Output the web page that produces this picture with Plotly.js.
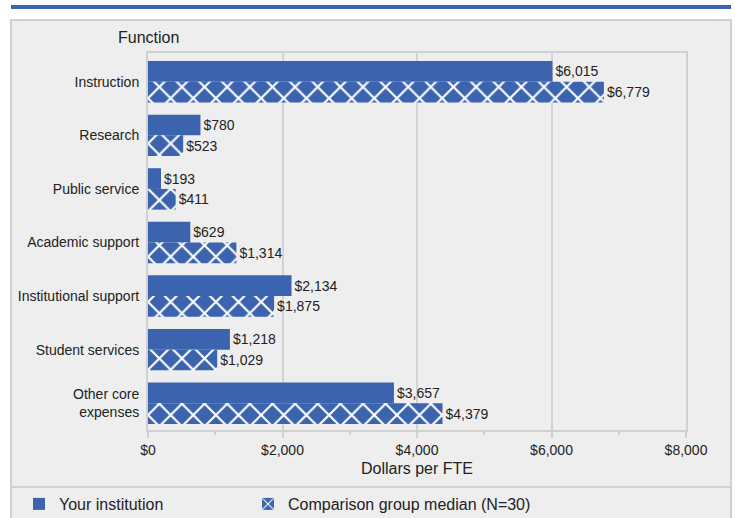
<!DOCTYPE html>
<html>
<head>
<meta charset="utf-8">
<script src="https://cdn.plot.ly/plotly-3.0.1.min.js"></script>
<style>html,body{margin:0;padding:0;background:#fff;}#chart{width:735px;height:518px;}</style>
</head>
<body>
<div id="chart"></div>
<script>
var categories = ["Instruction", "Research", "Public service", "Academic support", "Institutional support", "Student services", "Other core<br>expenses"];
var yourInstitution = [6015, 780, 193, 629, 2134, 1218, 3657];
var comparisonMedian = [6779, 523, 411, 1314, 1875, 1029, 4379];
var seriesNames = ["Your institution", "Comparison group median (N=30)"];
var tickVals = [0, 2000, 4000, 6000, 8000];

function fmt(v) { return "$" + v.toLocaleString("en-US"); }

var BLUE = "#3b63ae";
var FONT = "Liberation Sans, Arial, sans-serif";

var L = 148, R = 686, T = 53, B = 430;
function px(x) { return (x - L) / (R - L); }
function py(y) { return (B - y) / (B - T); }

var traces = [
  {
    type: "bar", orientation: "h", name: seriesNames[0], legend: "legend",
    y: categories, x: yourInstitution,
    text: yourInstitution.map(fmt), textposition: "outside", cliponaxis: false,
    textfont: {family: FONT, size: 14, color: "#222"},
    marker: {color: BLUE, line: {width: 0}},
    hoverinfo: "none"
  },
  {
    type: "bar", orientation: "h", name: seriesNames[1], legend: "legend2",
    y: categories, x: comparisonMedian,
    text: comparisonMedian.map(fmt), textposition: "outside", cliponaxis: false,
    textfont: {family: FONT, size: 14, color: "#222"},
    marker: {color: BLUE, line: {width: 0},
      pattern: {shape: "x", bgcolor: BLUE, fgcolor: "#ffffff", fgopacity: 1, size: 16, solidity: 0.25, fillmode: "replace"}},
    hoverinfo: "none"
  }
];

function legendAt(xPix) {
  return {
    orientation: "h", xref: "container", yref: "container",
    x: xPix / 735, y: 1 - 504 / 518, xanchor: "left", yanchor: "middle",
    font: {family: FONT, size: 16, color: "#222"},
    bgcolor: "rgba(0,0,0,0)"
  };
}

var layout = {
  width: 735, height: 518,
  margin: {l: L, r: 735 - R, t: T, b: 518 - B, pad: 0},
  paper_bgcolor: "#ffffff",
  plot_bgcolor: "rgba(0,0,0,0)",
  font: {family: FONT, size: 14, color: "#222"},
  barmode: "group", bargap: 0.227, bargroupgap: 0,
  showlegend: true,
  legend: legendAt(19),
  legend2: legendAt(248),
  xaxis: {
    range: [0, 8000], tickvals: tickVals, ticktext: tickVals.map(fmt),
    showgrid: true, gridcolor: "#d3d3d3", gridwidth: 2,
    zeroline: false,
    showline: true, linecolor: "#d0d0d0", linewidth: 2, mirror: true,
    ticks: "outside", ticklen: 6, tickcolor: "#d0d0d0", tickwidth: 2,
    minor: {dtick: 1000, tick0: 0, ticks: "outside", ticklen: 3, tickcolor: "#d0d0d0", tickwidth: 2, showgrid: false},
    tickfont: {family: FONT, size: 14, color: "#222"},
    title: {text: "Dollars per FTE", font: {family: FONT, size: 16, color: "#222"}, standoff: 6},
    fixedrange: true
  },
  yaxis: {
    type: "category", range: [6.5, -0.537],
    showgrid: false, zeroline: false,
    showline: true, linecolor: "#d0d0d0", linewidth: 2, mirror: true,
    ticks: "outside", ticklen: 4, tickcolor: "rgba(0,0,0,0)",
    tickfont: {family: FONT, size: 14, color: "#222"},
    fixedrange: true
  },
  annotations: [
    {text: "Function", xref: "paper", yref: "paper", x: 0, y: 1, xanchor: "center", yanchor: "bottom",
     yshift: 5, showarrow: false, font: {family: FONT, size: 16, color: "#222"}}
  ],
  shapes: [
    {type: "rect", xref: "paper", yref: "paper", x0: px(11), x1: px(731), y0: py(522), y1: py(20),
     fillcolor: "#eeeeee", line: {color: "#d0d0d0", width: 2}, layer: "below"},
    {type: "line", xref: "paper", yref: "paper", x0: px(11), x1: px(731), y0: py(7), y1: py(7),
     line: {color: BLUE, width: 4}, layer: "below"},
    {type: "line", xref: "paper", yref: "paper", x0: px(11), x1: px(731), y0: py(487), y1: py(487),
     line: {color: "#d0d0d0", width: 2}, layer: "below"}
  ]
};

Plotly.newPlot("chart", traces, layout, {displayModeBar: false, staticPlot: true});
</script>
</body>
</html>
